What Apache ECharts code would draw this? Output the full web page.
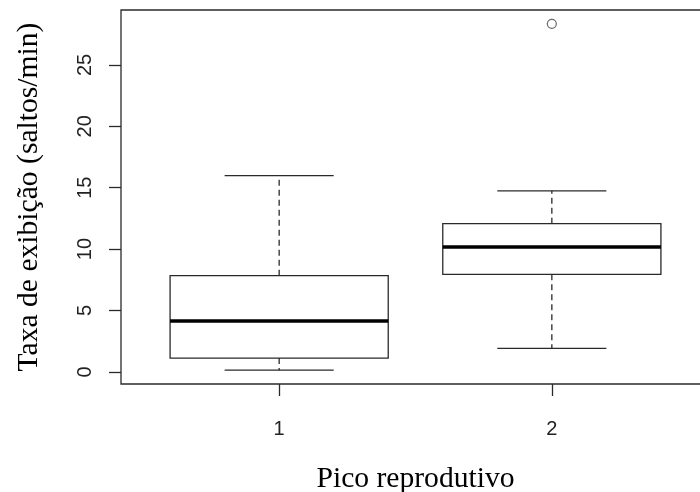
<!DOCTYPE html>
<html><head><meta charset="utf-8">
<script src="https://cdn.jsdelivr.net/npm/echarts@6/dist/echarts.min.js"></script>
<style>html,body{margin:0;padding:0;background:#fff}#c{width:700px;height:492px}</style>
</head><body><div id="c"></div>
<script>
// ---- data ----
const categories = [1, 2];
const categoryLabels = ['1', '2'];
const lowerWhisker = [0.14, 1.92];
const q1 = [1.12, 7.95];
const median = [4.14, 10.18];
const q3 = [7.84, 12.07];
const upperWhisker = [15.99, 14.75];
const outliers = [[2, 28.35]];
const yTicks = [0, 5, 10, 15, 20, 25];
const xTitle = 'Pico reprodutivo';
const yTitle = 'Taxa de exibição (saltos/min)';

// ---- axis ranges (R style: data range extended by 4%) ----
const allY = lowerWhisker.concat(upperWhisker, outliers.map(o => o[1]));
const yLo = Math.min(...allY), yHi = Math.max(...allY);
const yPad = (yHi - yLo) * 0.04;
const xLo = 0.5, xHi = categories.length + 0.5;
const xPad = (xHi - xLo) * 0.04;

const boxData = categories.map((c, i) => [c, lowerWhisker[i], q1[i], median[i], q3[i], upperWhisker[i]]);

const ink = '#2a2a2a';
const chart = echarts.init(document.getElementById('c'), null, {renderer: 'canvas'});
chart.setOption({
  animation: false,
  backgroundColor: '#fff',
  grid: {left: 121, top: 10, width: 589, height: 374, outerBoundsMode: 'none', containLabel: false,
    show: true, borderColor: ink, borderWidth: 1.3, backgroundColor: 'transparent'},
  xAxis: {
    type: 'value', min: xLo - xPad, max: xHi + xPad,
    axisLine: {show: false, onZero: false}, splitLine: {show: false},
    axisTick: {show: true, inside: false, length: 12, customValues: categories, lineStyle: {color: ink, width: 1.3}},
    axisLabel: {customValues: categories, formatter: v => categoryLabels[categories.indexOf(v)] ?? '',
      fontFamily: 'Liberation Sans', fontSize: 20, color: '#222', margin: 35},
    name: xTitle, nameLocation: 'middle', nameGap: 80,
    nameTextStyle: {fontFamily: 'Liberation Serif', fontSize: 29.6, color: '#000'}
  },
  yAxis: {
    type: 'value', min: yLo - yPad, max: yHi + yPad,
    axisLine: {show: false, onZero: false}, splitLine: {show: false},
    axisTick: {show: true, inside: false, length: 12, customValues: yTicks, lineStyle: {color: ink, width: 1.3}},
    axisLabel: {customValues: yTicks, rotate: 90, fontFamily: 'Liberation Sans', fontSize: 20, color: '#222', margin: 26},
    name: yTitle, nameLocation: 'middle', nameGap: 77,
    nameTextStyle: {fontFamily: 'Liberation Serif', fontSize: 29.6, color: '#000'}
  },
  series: [
    {
      type: 'custom',
      data: boxData,
      encode: {x: 0, y: [1, 2, 3, 4, 5]},
      renderItem: function (params, api) {
        const x = api.value(0);
        const pLo = api.coord([x, api.value(1)]);
        const pA = api.coord([x, api.value(2)]);
        const pM = api.coord([x, api.value(3)]);
        const pB = api.coord([x, api.value(4)]);
        const pHi = api.coord([x, api.value(5)]);
        const halfW = api.size([0.4, 0])[0];
        const halfS = api.size([0.2, 0])[0];
        const cx = pA[0];
        const solid = {stroke: ink, lineWidth: 1.3, fill: null};
        const dashed = {stroke: ink, lineWidth: 1.3, lineDash: [6, 4], fill: null};
        return {type: 'group', children: [
          {type: 'line', shape: {x1: cx, y1: pB[1], x2: cx, y2: pHi[1]}, style: dashed},
          {type: 'line', shape: {x1: cx, y1: pA[1], x2: cx, y2: pLo[1]}, style: dashed},
          {type: 'line', shape: {x1: cx - halfS, y1: pHi[1], x2: cx + halfS, y2: pHi[1]}, style: solid},
          {type: 'line', shape: {x1: cx - halfS, y1: pLo[1], x2: cx + halfS, y2: pLo[1]}, style: solid},
          {type: 'rect', shape: {x: cx - halfW, y: pB[1], width: 2 * halfW, height: pA[1] - pB[1]}, style: {stroke: ink, lineWidth: 1.3, fill: '#fff'}},
          {type: 'line', shape: {x1: cx - halfW, y1: pM[1], x2: cx + halfW, y2: pM[1]}, style: {stroke: '#000', lineWidth: 3.5}}
        ]};
      }
    },
    {
      type: 'scatter',
      data: outliers,
      symbol: 'circle', symbolSize: 9,
      itemStyle: {color: '#fff', borderColor: '#444', borderWidth: 1.2}
    }
  ]
});
</script>
</body></html>
